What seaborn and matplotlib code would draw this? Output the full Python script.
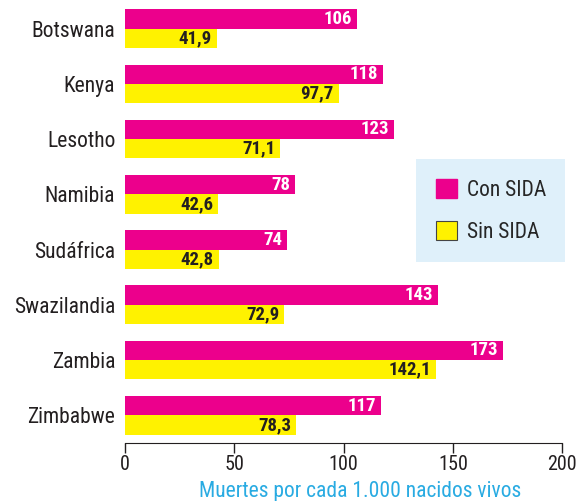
import pandas as pd
import matplotlib.pyplot as plt
import matplotlib.patches as mpatches
import seaborn as sns

paises = ['Botswana', 'Kenya', 'Lesotho', 'Namibia', 'Sudáfrica',
          'Swazilandia', 'Zambia', 'Zimbabwe']
con_sida = [106, 118, 123, 78, 74, 143, 173, 117]
sin_sida = [41.9, 97.7, 71.1, 42.6, 42.8, 72.9, 142.1, 78.3]
series = ['Con SIDA', 'Sin SIDA']

MAGENTA = '#ec008c'
YELLOW = '#fff200'
DARK = '#231f20'

df = pd.DataFrame({
    'pais': paises * 2,
    'valor': con_sida + sin_sida,
    'serie': [series[0]] * len(paises) + [series[1]] * len(paises),
})

sns.set_style('white')
plt.rcParams['font.family'] = ['Roboto Condensed', 'DejaVu Sans']

fig = plt.figure(figsize=(5.76, 5.01), dpi=100)
ax = fig.add_axes([0.217, 0.116, 0.759, 0.882])

sns.barplot(data=df, x='valor', y='pais', hue='serie', orient='h',
            palette=[MAGENTA, YELLOW], width=0.7, saturation=1,
            linewidth=0, legend=False, ax=ax)

# value labels inside the bar ends
for cont, color in zip(ax.containers, ['white', DARK]):
    labels = [f'{v:g}'.replace('.', ',') for v in cont.datavalues]
    txts = ax.bar_label(cont, labels=labels, padding=-3.5, color=color,
                        fontsize=13.5, fontweight='bold')
    for t in txts:
        t.set_horizontalalignment('right')
        t.set_verticalalignment('center')

ax.set_xlim(0, 200)
ax.set_ylim(len(paises) - 0.5, -0.5)
ax.set_xticks([0, 50, 100, 150, 200])
ax.set_xlabel('Muertes por cada 1.000 nacidos vivos', color='#29abe2',
              fontsize=15.5, labelpad=5, x=0.538)
ax.set_ylabel('')
ax.tick_params(axis='x', direction='out', length=7, width=1, color=DARK,
               labelsize=14.5, labelcolor=DARK, pad=2, bottom=True)
ax.tick_params(axis='y', length=0, labelsize=15.5, labelcolor=DARK, pad=7)

for s in ['top', 'right', 'left']:
    ax.spines[s].set_visible(False)
ax.spines['bottom'].set_color(DARK)

handles = [mpatches.Patch(facecolor=MAGENTA, edgecolor=MAGENTA, label=series[0]),
           mpatches.Patch(facecolor=YELLOW, edgecolor='#444444', linewidth=0.8,
                          label=series[1])]
leg = ax.legend(handles=handles, loc='upper left', bbox_to_anchor=(0.666, 0.642),
                frameon=True, fancybox=False, fontsize=15.5, handlelength=1.0,
                handleheight=1.0, handletextpad=0.45, labelspacing=0.95,
                borderpad=0.9, borderaxespad=0)
leg.get_frame().set_facecolor('#dff0fa')
leg.get_frame().set_edgecolor('none')
leg.get_frame().set_alpha(1)

plt.savefig('out.png', dpi=100)
